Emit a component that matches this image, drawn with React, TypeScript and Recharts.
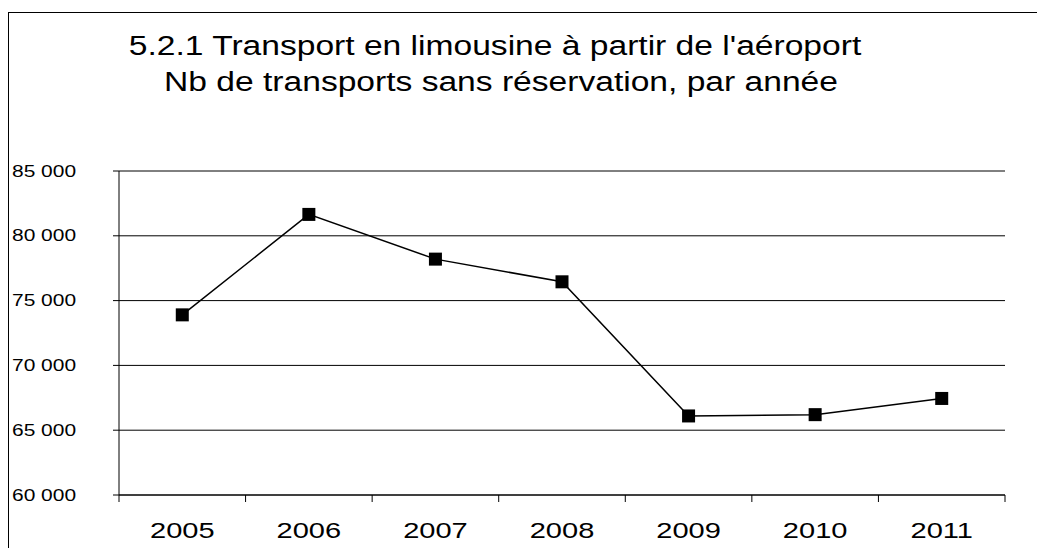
import { CartesianGrid, Line, LineChart, XAxis, YAxis } from 'recharts'

const years = ['2005', '2006', '2007', '2008', '2009', '2010', '2011']
const transports = [73900, 81650, 78200, 76450, 66100, 66200, 67450]
const yTicks = [60000, 65000, 70000, 75000, 80000, 85000]
const titleLines = [
  "5.2.1 Transport en limousine à partir de l'aéroport",
  'Nb de transports sans réservation, par année',
]

const data = years.map((year, i) => ({ year, value: transports[i] }))

const FONT = '"Liberation Sans", Arial, sans-serif'

const fmt = (v: number) => String(v).replace(/\B(?=(\d{3})+(?!\d))/g, ' ')

function YTick(props: any) {
  const { y, payload } = props
  return (
    <text
      transform={`translate(12, ${y}) scale(1.27, 1)`}
      textAnchor="start"
      dominantBaseline="central"
      fontFamily={FONT}
      fontSize={16.5}
      fill="#000"
    >
      {fmt(payload.value)}
    </text>
  )
}

function XTick(props: any) {
  const { x, y, payload, index, visibleTicksCount } = props
  const half = payload.offset ?? 63.3
  const last = index === visibleTicksCount - 1
  return (
    <g>
      <line x1={x - half} x2={x - half} y1={y} y2={y + 7} stroke="#000" />
      {last && <line x1={x + half} x2={x + half} y1={y} y2={y + 7} stroke="#000" />}
      <text
        transform={`translate(${x}, ${y + 43}) scale(1.32, 1)`}
        textAnchor="middle"
        fontFamily={FONT}
        fontSize={22}
        fill="#000"
      >
        {payload.value}
      </text>
    </g>
  )
}

function SquareDot(props: any) {
  const { cx, cy } = props
  if (cx == null || cy == null) return null
  return <rect x={cx - 6.5} y={cy - 6.5} width={13} height={13} fill="#000" />
}

export default function App() {
  return (
    <div style={{ position: 'absolute', left: 0, top: 0, width: 1037, height: 548, background: '#fff' }}>
      <svg width={1037} height={548} style={{ position: 'absolute', left: 0, top: 0 }}>
        <line x1={8.5} y1={12} x2={8.5} y2={548} stroke="#000" />
        <line x1={8} y1={12.5} x2={1037} y2={12.5} stroke="#000" />
        {titleLines.map((t, i) => (
          <text
            key={i}
            transform={`translate(${i === 0 ? 495 : 501}, ${55 + i * 36}) scale(1.2, 1)`}
            textAnchor="middle"
            fontFamily={FONT}
            fontSize={28}
            fill="#000"
          >
            {t}
          </text>
        ))}
      </svg>
      <div style={{ position: 'absolute', left: 0, top: 0 }}>
        <LineChart width={1037} height={548} data={data} margin={{ top: 171, right: 32, bottom: 0, left: 0 }}>
          <CartesianGrid vertical={false} stroke="#000" />
          <XAxis
            dataKey="year"
            scale="band"
            height={53}
            tickLine={false}
            tickSize={0}
            tickMargin={0}
            axisLine={{ stroke: '#000' }}
            tick={<XTick />}
            interval={0}
          />
          <YAxis
            width={119}
            domain={[60000, 85000]}
            ticks={yTicks}
            tickSize={6}
            tickLine={{ stroke: '#000' }}
            axisLine={{ stroke: '#000' }}
            tick={<YTick />}
            interval={0}
          />
          <YAxis
            yAxisId="right"
            orientation="right"
            width={0}
            domain={[60000, 85000]}
            tick={false}
            tickLine={false}
            axisLine={{ stroke: '#000' }}
          />
          <Line
            dataKey="value"
            type="linear"
            stroke="#000"
            strokeWidth={1.5}
            dot={<SquareDot />}
            activeDot={false}
            isAnimationActive={false}
          />
        </LineChart>
      </div>
    </div>
  )
}
